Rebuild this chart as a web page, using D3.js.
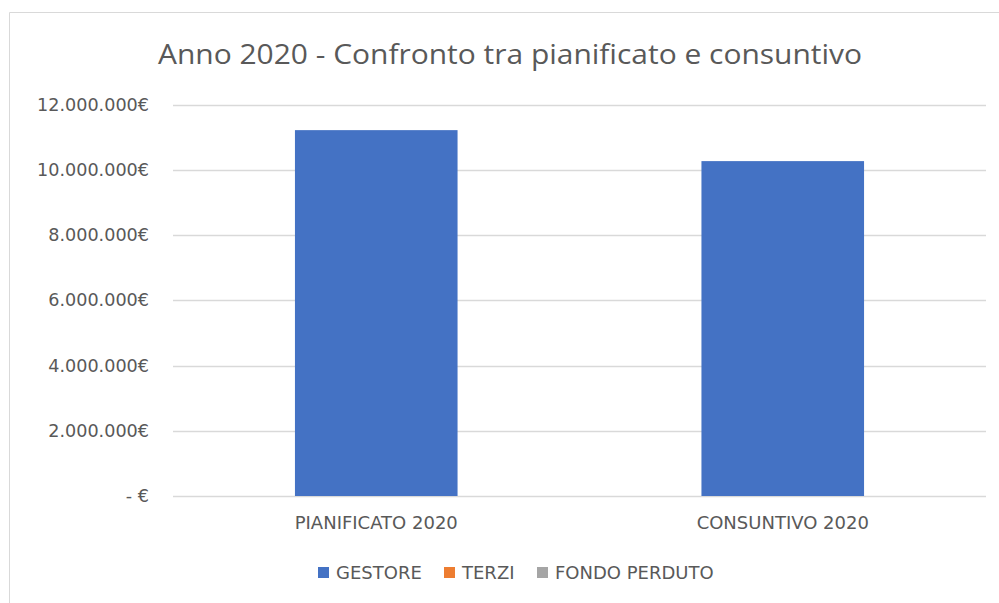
<!DOCTYPE html>
<html>
<head>
<meta charset="utf-8">
<script src="https://cdn.jsdelivr.net/npm/d3@7"></script>
<style>
  body { margin: 0; background: #fff; }
  svg { display: block; }
  text { font-family: "DejaVu Sans", "Noto Sans", sans-serif; fill: #595959; }
</style>
</head>
<body>
<svg id="chart" width="999" height="603"></svg>
<script>
// chart data
var categories = ["PIANIFICATO 2020", "CONSUNTIVO 2020"];
var seriesNames = ["GESTORE", "TERZI", "FONDO PERDUTO"];
var seriesColors = ["#4472c4", "#ed7d31", "#a5a5a5"];
var gestore = [11220000, 10270000];
var terzi = [0, 0];
var fondoPerduto = [0, 0];
var yTicks = [0, 2000000, 4000000, 6000000, 8000000, 10000000, 12000000];

var svg = d3.select("#chart");

// outer chart frame (only top + left edges are in view)
svg.append("path")
    .attr("d", "M9.5,603V12.5H999")
    .attr("fill", "none")
    .attr("stroke", "#d9d9d9")
    .attr("stroke-width", 1);

var plot = { left: 173, right: 986, top: 104.7, bottom: 496 };

var x = d3.scaleBand()
    .domain(categories)
    .range([plot.left, plot.right])
    .paddingInner(0.6)
    .paddingOuter(0.3);

var y = d3.scaleLinear()
    .domain([0, 12000000])
    .range([plot.bottom, plot.top]);

// number format like "12.000.000€"
var itFormat = d3.formatLocale({ decimal: ",", thousands: ".", grouping: [3], currency: ["", "€"] });
var fmt = itFormat.format(",.0f");
function tickLabel(v) {
    return v === 0 ? "-  €" : fmt(v) + "€";
}

// gridlines
svg.append("g")
    .selectAll("line")
    .data(yTicks)
    .join("line")
    .attr("x1", plot.left)
    .attr("x2", plot.right)
    .attr("y1", function(d) { return Math.round(y(d)) + 0.5; })
    .attr("y2", function(d) { return Math.round(y(d)) + 0.5; })
    .attr("stroke", "#d9d9d9")
    .attr("stroke-width", 1.5);

// y axis labels
var yAxis = d3.axisLeft(y).tickValues(yTicks).tickFormat(tickLabel).tickSize(0).tickPadding(0);
var yG = svg.append("g")
    .attr("transform", "translate(149,0)")
    .call(yAxis);
yG.select(".domain").remove();
yG.selectAll("text")
    .attr("font-size", 17.6)
    .attr("fill", "#595959")
    .style("font-family", "'DejaVu Sans', sans-serif");

// stacked bars
var rows = categories.map(function(c, i) {
    return { cat: c, "GESTORE": gestore[i], "TERZI": terzi[i], "FONDO PERDUTO": fondoPerduto[i] };
});
var stacked = d3.stack().keys(seriesNames)(rows);

svg.append("g")
    .selectAll("g")
    .data(stacked)
    .join("g")
    .attr("fill", function(d, i) { return seriesColors[i]; })
    .selectAll("rect")
    .data(function(d) { return d; })
    .join("rect")
    .attr("x", function(d) { return x(d.data.cat); })
    .attr("width", x.bandwidth())
    .attr("y", function(d) { return y(d[1]); })
    .attr("height", function(d) { return y(d[0]) - y(d[1]); });

// x axis labels
var xAxis = d3.axisBottom(x).tickSize(0).tickPadding(0);
var xG = svg.append("g")
    .attr("transform", "translate(0,516)")
    .call(xAxis);
xG.select(".domain").remove();
xG.selectAll("text")
    .attr("font-size", 18)
    .attr("fill", "#595959")
    .style("font-family", "'DejaVu Sans', sans-serif");

// title
svg.append("text")
    .attr("x", 510)
    .attr("y", 64)
    .attr("text-anchor", "middle")
    .attr("font-size", 27)
    .attr("textLength", 704)
    .attr("lengthAdjust", "spacingAndGlyphs")
    .style("font-family", "'Open Sans', sans-serif")
    .text("Anno 2020 - Confronto tra pianificato e consuntivo");

// legend
var legendX = [318, 444, 537];
var legend = svg.append("g")
    .selectAll("g")
    .data(seriesNames)
    .join("g")
    .attr("transform", function(d, i) { return "translate(" + legendX[i] + ",567)"; });
legend.append("rect")
    .attr("width", 11)
    .attr("height", 11)
    .attr("fill", function(d, i) { return seriesColors[i]; });
legend.append("text")
    .attr("x", 18)
    .attr("y", 12)
    .attr("font-size", 18)
    .text(function(d) { return d; });
</script>
</body>
</html>
